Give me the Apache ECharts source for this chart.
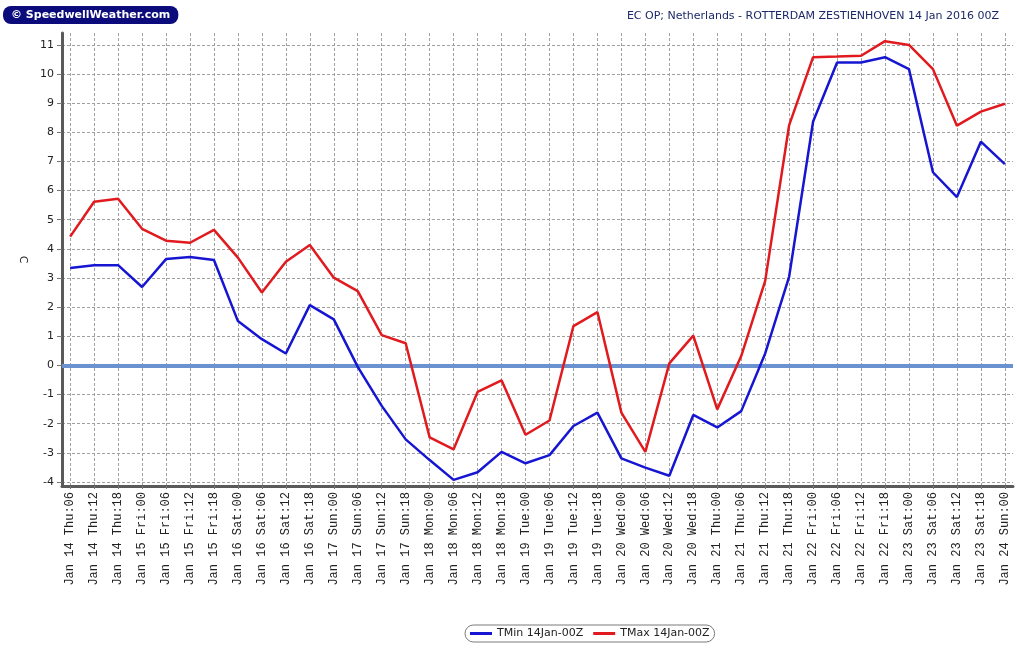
<!DOCTYPE html>
<html>
<head>
<meta charset="utf-8">
<script src="https://cdn.jsdelivr.net/npm/echarts@6/dist/echarts.min.js"></script>
<style>
  html, body { margin: 0; padding: 0; background: #fff; }
  #chart { width: 1017px; height: 654px; }
</style>
</head>
<body>
<div id="chart"></div>
<script>
// 6-hourly steps, Jan 14 06Z .. Jan 24 00Z
const categories = [
  'Jan 14 Thu:06', 'Jan 14 Thu:12', 'Jan 14 Thu:18',
  'Jan 15 Fri:00', 'Jan 15 Fri:06', 'Jan 15 Fri:12', 'Jan 15 Fri:18',
  'Jan 16 Sat:00', 'Jan 16 Sat:06', 'Jan 16 Sat:12', 'Jan 16 Sat:18',
  'Jan 17 Sun:00', 'Jan 17 Sun:06', 'Jan 17 Sun:12', 'Jan 17 Sun:18',
  'Jan 18 Mon:00', 'Jan 18 Mon:06', 'Jan 18 Mon:12', 'Jan 18 Mon:18',
  'Jan 19 Tue:00', 'Jan 19 Tue:06', 'Jan 19 Tue:12', 'Jan 19 Tue:18',
  'Jan 20 Wed:00', 'Jan 20 Wed:06', 'Jan 20 Wed:12', 'Jan 20 Wed:18',
  'Jan 21 Thu:00', 'Jan 21 Thu:06', 'Jan 21 Thu:12', 'Jan 21 Thu:18',
  'Jan 22 Fri:00', 'Jan 22 Fri:06', 'Jan 22 Fri:12', 'Jan 22 Fri:18',
  'Jan 23 Sat:00', 'Jan 23 Sat:06', 'Jan 23 Sat:12', 'Jan 23 Sat:18',
  'Jan 24 Sun:00'
];

const tMin = [
  3.34, 3.44, 3.44, 2.69, 3.65, 3.72, 3.62, 1.52, 0.90, 0.41,
  2.07, 1.58, -0.05, -1.39, -2.54, -3.25, -3.93, -3.67, -2.97, -3.36,
  -3.08, -2.08, -1.62, -3.19, -3.51, -3.79, -1.70, -2.13, -1.57, 0.41,
  3.05, 8.37, 10.40, 10.40, 10.58, 10.17, 6.63, 5.78, 7.68, 6.91
];

const tMax = [
  4.42, 5.62, 5.72, 4.69, 4.28, 4.21, 4.65, 3.70, 2.50, 3.56,
  4.13, 3.01, 2.55, 1.04, 0.76, -2.47, -2.88, -0.91, -0.51, -2.38,
  -1.89, 1.35, 1.83, -1.62, -2.97, 0.07, 1.02, -1.51, 0.32, 2.90,
  8.25, 10.58, 10.60, 10.63, 11.13, 11.00, 10.17, 8.23, 8.71, 8.98
];

const yTicks = [-4, -3, -2, -1, 0, 1, 2, 3, 4, 5, 6, 7, 8, 9, 10, 11];

const seriesNames = ['TMin 14Jan-00Z', 'TMax 14Jan-00Z'];
const titleText = 'EC OP; Netherlands - ROTTERDAM ZESTIENHOVEN 14 Jan 2016 00Z';

const xIdx = categories.map((c, i) => i);
const toPairs = arr => arr.map((v, i) => [i, v]);

const chart = echarts.init(document.getElementById('chart'));

const gridLine = { color: '#a0a0a0', width: 1, type: [3, 2] };
const axisLine = { show: true, onZero: false, lineStyle: { color: '#5a5a5a', width: 3 } };

chart.setOption({
  animation: false,
  backgroundColor: '#fff',
  textStyle: { fontFamily: 'DejaVu Sans' },
  title: [
    {
      text: '© SpeedwellWeather.com',
      left: 3,
      top: 6,
      padding: [4, 8, 3, 8],
      backgroundColor: '#0b0b7c',
      borderRadius: 8,
      textStyle: { color: '#fff', fontSize: 11, fontWeight: 'bold', fontFamily: 'DejaVu Sans' }
    },
    {
      text: titleText,
      right: 18,
      top: 11,
      padding: 0,
      textStyle: { color: '#1c2868', fontSize: 11, fontWeight: 'normal', fontFamily: 'DejaVu Sans' }
    }
  ],
  legend: {
    data: seriesNames,
    bottom: 12,
    left: 465,
    itemWidth: 22,
    itemHeight: 3,
    itemGap: 10,
    icon: 'rect',
    padding: [3, 5, 3, 5],
    borderColor: '#7a7a7a',
    borderWidth: 1,
    borderRadius: 9,
    textStyle: { color: '#222', fontSize: 11, fontFamily: 'DejaVu Sans' }
  },
  grid: { left: 62, right: 4, top: 33, bottom: 168, containLabel: false },
  xAxis: {
    type: 'value',
    min: -0.34,
    max: 39.34,
    axisLine: axisLine,
    axisTick: { show: true, customValues: xIdx, length: 3, lineStyle: { color: '#777' } },
    axisLabel: {
      customValues: xIdx,
      rotate: 90,
      margin: 6,
      color: '#222',
      fontSize: 12,
      fontFamily: 'Liberation Mono',
      formatter: v => categories[Math.round(v)]
    },
    splitLine: { show: true, lineStyle: gridLine }
  },
  yAxis: {
    type: 'value',
    min: -4.14,
    max: 11.41,
    name: 'C',
    nameLocation: 'middle',
    nameGap: 34,
    nameRotate: -90,
    nameTextStyle: { color: '#222', fontSize: 11 },
    axisLine: axisLine,
    axisTick: { show: true, customValues: yTicks, length: 5, lineStyle: { color: '#777' } },
    axisLabel: { customValues: yTicks, margin: 8, color: '#222', fontSize: 11 },
    splitLine: { show: true, lineStyle: gridLine }
  },
  series: [
    {
      name: seriesNames[0],
      type: 'line',
      data: toPairs(tMin),
      symbol: 'none',
      color: '#1616d2',
      lineStyle: { width: 2.5, color: '#1616d2' },
      z: 3,
      markLine: {
        silent: true,
        symbol: 'none',
        label: { show: false },
        lineStyle: { color: '#6b91d0', width: 4, type: 'solid' },
        data: [{ yAxis: 0 }],
        z: 2
      }
    },
    {
      name: seriesNames[1],
      type: 'line',
      data: toPairs(tMax),
      symbol: 'none',
      color: '#e01a1e',
      lineStyle: { width: 2.5, color: '#e01a1e' },
      z: 3
    }
  ]
});

window.onresize = function () {
  chart.resize();
};
</script>
</body>
</html>
